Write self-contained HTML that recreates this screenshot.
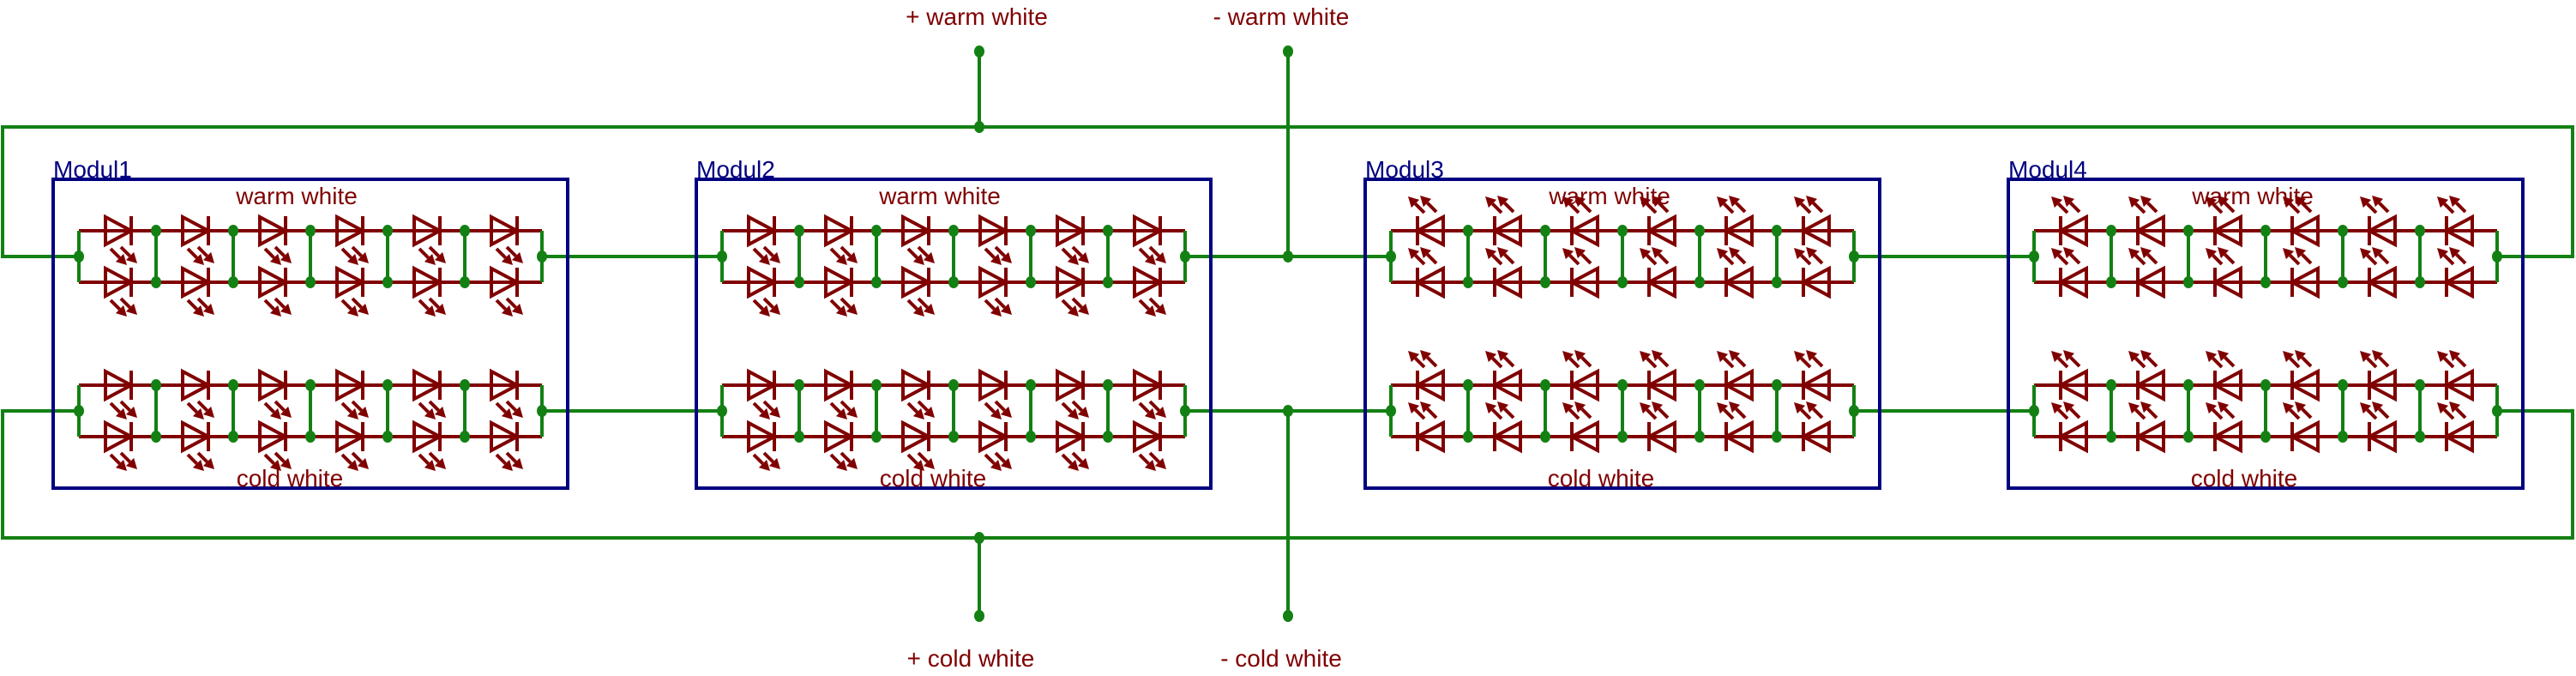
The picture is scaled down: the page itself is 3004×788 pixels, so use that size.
<!DOCTYPE html>
<html><head><meta charset="utf-8">
<style>
html,body{margin:0;padding:0;background:#fff;}
svg{display:block;}
text{font-family:"Liberation Sans",sans-serif;font-size:28px;}
.r{fill:#800000;}
.b{fill:#000080;}
</style></head>
<body>
<svg id="s" xmlns="http://www.w3.org/2000/svg" width="3004" height="788" viewBox="0 0 3004 788">
<g id="g"></g>
<text class="r" x="1139" y="29" text-anchor="middle">+ warm white</text>
<text class="r" x="1494" y="29" text-anchor="middle">- warm white</text>
<text class="r" x="1132" y="777" text-anchor="middle">+ cold white</text>
<text class="r" x="1494" y="777" text-anchor="middle">- cold white</text>
<text class="b" x="62" y="207">Modul1</text>
<text class="b" x="812" y="207">Modul2</text>
<text class="b" x="1592" y="207">Modul3</text>
<text class="b" x="2342" y="207">Modul4</text>
<text class="r" x="346" y="238" text-anchor="middle">warm white</text>
<text class="r" x="1096" y="238" text-anchor="middle">warm white</text>
<text class="r" x="1877" y="238" text-anchor="middle">warm white</text>
<text class="r" x="2627" y="238" text-anchor="middle">warm white</text>
<text class="r" x="338" y="567" text-anchor="middle">cold white</text>
<text class="r" x="1088" y="567" text-anchor="middle">cold white</text>
<text class="r" x="1867" y="567" text-anchor="middle">cold white</text>
<text class="r" x="2617" y="567" text-anchor="middle">cold white</text>
</svg>
<script>
var G=document.getElementById('g'),out='';
var GR='#138013',RD='#800000',BL='#000080';
function L(x1,y1,x2,y2,c,w){out+='<line x1="'+x1+'" y1="'+y1+'" x2="'+x2+'" y2="'+y2+'" stroke="'+c+'" stroke-width="'+(w||4)+'" stroke-linecap="butt"/>';}
function D(x,y){out+='<ellipse cx="'+x+'" cy="'+y+'" rx="6" ry="7" fill="'+GR+'"/>';}
function P(pts,fill,c){out+='<polygon points="'+pts+'" fill="'+fill+'" stroke="'+c+'" stroke-width="4" stroke-linejoin="miter"/>';}
function arrow(x1,y1,x2,y2){
  var dx=x2-x1,dy=y2-y1,l=Math.sqrt(dx*dx+dy*dy),ux=dx/l,uy=dy/l;
  var bx=x2-ux*12,by=y2-uy*12,px=-uy*6.5,py=ux*6.5;
  L(x1,y1,bx,by,RD,4);
  out+='<polygon points="'+x2+','+y2+' '+(bx+px)+','+(by+py)+' '+(bx-px)+','+(by-py)+'" fill="'+RD+'"/>';
}
L(3,148,3000,148,GR);L(3,146,3,301,GR);L(3000,146,3000,301,GR);
L(1,299,92,299,GR);L(2911,299,3002,299,GR);
L(632,299,842,299,GR);L(1382,299,1622,299,GR);L(2162,299,2372,299,GR);
L(1142,60,1142,148,GR);D(1142,60);D(1142,148);
L(1502,60,1502,299,GR);D(1502,60);D(1502,299);
L(3,627,3000,627,GR);L(3,477,3,629,GR);L(3000,477,3000,629,GR);
L(1,479,92,479,GR);L(2911,479,3002,479,GR);
L(632,479,842,479,GR);L(1382,479,1622,479,GR);L(2162,479,2372,479,GR);
L(1142,627,1142,718,GR);D(1142,627);D(1142,718);
L(1502,479,1502,718,GR);D(1502,479);D(1502,718);
function module(bx,rev){
  out+='<rect x="'+bx+'" y="209" width="600" height="360" fill="none" stroke="'+BL+'" stroke-width="4"/>';
  [269,449].forEach(function(top){
    var rows=[top,top+60],mid=top+30;
    rows.forEach(function(r){L(bx+30,r,bx+570,r,RD);});
    L(bx+30,top,bx+30,top+60,GR);L(bx+570,top,bx+570,top+60,GR);
    D(bx+30,mid);D(bx+570,mid);
    for(var k=0;k<5;k++){var jx=bx+120+90*k;L(jx,top,jx,top+60,GR);D(jx,top);D(jx,top+60);}
    rows.forEach(function(r){
      for(var k=0;k<6;k++){
        var t=bx+61+90*k;
        if(!rev){
          P(t+','+(r-16)+' '+t+','+(r+16)+' '+(t+30)+','+r,'none',RD);
          L(t+30,r-17,t+30,r+17,RD);
          arrow(t+6,r+21,t+25,r+40);arrow(t+18,r+19,t+37,r+38);
        }else{
          P((t+30)+','+(r-16)+' '+(t+30)+','+(r+16)+' '+t+','+r,'none',RD);
          L(t,r-17,t,r+17,RD);
          arrow(t+8,r-21,t-11,r-40);arrow(t+22,r-22,t+3,r-41);
        }
      }
    });
  });
}
module(62,false);module(812,false);module(1592,true);module(2342,true);
G.innerHTML=out;
</script>
</body></html>
